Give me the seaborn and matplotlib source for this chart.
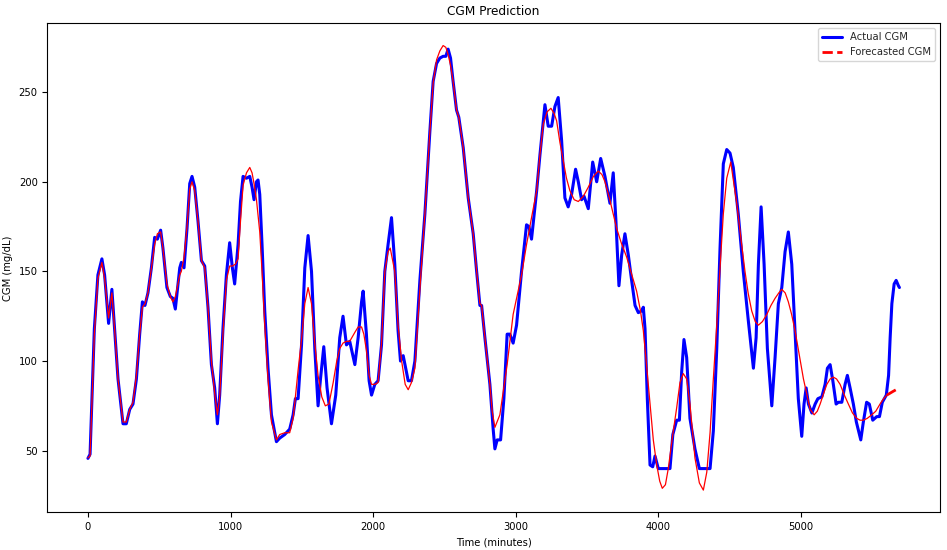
import numpy as np
import pandas as pd
import matplotlib
matplotlib.use("Agg")
import matplotlib.pyplot as plt
import seaborn as sns

# values (time in minutes, CGM in mg/dL)
actual_time = [0, 15, 45, 70, 98, 117, 145, 168, 187, 211, 246, 269, 293, 316, 340, 363, 382, 400, 421, 445,
               468, 487, 510, 526, 554, 578, 596, 613, 644, 655, 674, 695, 714, 730, 749, 772, 796, 819, 842, 866,
               889, 908, 924, 947, 971, 994, 1013, 1029, 1053, 1070, 1088, 1112, 1135, 1151, 1165, 1182, 1193, 1205,
               1221, 1240, 1263, 1287, 1322, 1345, 1380, 1415, 1439, 1455, 1474, 1498, 1521, 1544, 1568, 1591, 1614,
               1631, 1654, 1677, 1708, 1738, 1766, 1789, 1813, 1836, 1872, 1895, 1919, 1930, 1953, 1972, 1989, 2012,
               2035, 2059, 2082, 2105, 2129, 2152, 2175, 2192, 2211, 2246, 2269, 2293, 2328, 2363, 2398, 2421, 2445,
               2468, 2491, 2510, 2526, 2543, 2561, 2585, 2601, 2632, 2667, 2702, 2726, 2749, 2761, 2784, 2819, 2842,
               2854, 2870, 2894, 2917, 2940, 2959, 2982, 3006, 3041, 3076, 3093, 3111, 3147, 3170, 3205, 3228, 3252,
               3275, 3298, 3322, 3345, 3368, 3392, 3420, 3439, 3462, 3479, 3509, 3540, 3568, 3596, 3626, 3661, 3684,
               3703, 3724, 3743, 3766, 3790, 3813, 3837, 3860, 3884, 3895, 3907, 3923, 3942, 3961, 3977, 4000, 4082,
               4102, 4129, 4148, 4164, 4180, 4199, 4222, 4257, 4288, 4363, 4386, 4410, 4433, 4456, 4480, 4503, 4526,
               4561, 4596, 4632, 4667, 4686, 4702, 4721, 4742, 4765, 4796, 4819, 4842, 4866, 4889, 4912, 4936, 4959,
               4982, 5006, 5022, 5037, 5053, 5077, 5100, 5119, 5147, 5170, 5186, 5205, 5224, 5247, 5263, 5287, 5310,
               5326, 5345, 5368, 5389, 5420, 5438, 5461, 5480, 5504, 5532, 5551, 5571, 5599, 5615, 5626, 5638, 5654,
               5668, 5684, 5691]
actual_cgm = [45.7, 48, 118, 148, 157, 148, 121, 140, 118, 90, 65, 65, 73, 76, 90, 115, 133, 131, 138, 152,
              169, 168, 173, 163, 141, 136, 135, 129, 152, 155, 152, 174, 199, 203, 197, 178, 156, 153, 130, 98,
              85, 65, 81, 118, 148, 166, 152, 143, 165, 189, 203, 202, 203, 197, 190, 200, 201, 193,
              165, 128, 96, 70, 55, 57, 59, 62, 70, 79, 79, 109, 152, 170, 150, 107, 75,
              90, 108, 85, 65, 81, 113, 125, 109, 111, 98, 113, 133, 139, 115, 89, 81, 87,
              89, 109, 150, 165, 180, 154, 117, 100, 103, 89, 89, 100, 145, 182, 228, 256, 266,
              269, 270, 270, 274, 269, 256, 240, 236, 219, 191, 171, 150, 131, 131, 113, 87, 62,
              51, 56, 56, 79, 115, 115, 110, 120, 150, 176, 175, 168, 195, 215, 243, 231, 231,
              242, 247, 223, 191, 186, 193, 207, 200, 190, 192, 185, 211, 200, 213, 203, 188, 205,
              178, 142, 159, 171, 159, 145, 131, 127, 128, 130, 118, 79, 42, 41, 47, 40, 40,
              59, 67, 67, 94, 112, 102, 68, 51, 40, 40, 61, 107, 163, 210, 218, 216, 208,
              182, 150, 122, 96, 113, 154, 186, 154, 107, 75, 102, 132, 141, 161, 172, 154, 117,
              79, 58, 76, 85, 76, 71, 76, 79, 80, 87, 96, 98, 89, 76, 77, 77, 87,
              92, 85, 76, 66, 56, 66, 77, 76, 67, 69, 69, 77, 81, 92, 113, 132, 143,
              145, 142, 141]

fitted_time = [0, 15, 45, 70, 98, 117, 145, 168, 187, 211, 246, 269, 293, 316, 340, 363, 382, 400, 421, 445,
               468, 487, 510, 526, 554, 578, 596, 613, 644, 655, 674, 695, 714, 730, 749, 772, 796, 819, 842, 866,
               889, 908, 924, 947, 971, 994, 1013, 1034, 1053, 1070, 1088, 1112, 1135, 1151, 1165, 1182, 1205, 1221,
               1240, 1263, 1287, 1322, 1345, 1380, 1415, 1439, 1455, 1474, 1498, 1521, 1544, 1568, 1591, 1614, 1640,
               1665, 1690, 1720, 1745, 1766, 1789, 1813, 1836, 1872, 1895, 1919, 1935, 1953, 1972, 1989, 2012, 2035,
               2059, 2082, 2105, 2120, 2152, 2175, 2200, 2225, 2246, 2269, 2293, 2328, 2363, 2398, 2421, 2445, 2468,
               2491, 2510, 2526, 2543, 2561, 2585, 2601, 2632, 2667, 2702, 2726, 2749, 2761, 2784, 2819, 2835, 2854,
               2889, 2940, 2982, 3041, 3076, 3111, 3147, 3170, 3193, 3220, 3247, 3270, 3287, 3310, 3333, 3356, 3380,
               3410, 3439, 3475, 3509, 3545, 3579, 3605, 3626, 3660, 3708, 3740, 3778, 3815, 3848, 3875, 3895, 3915,
               3942, 3965, 3989, 4010, 4028, 4050, 4070, 4100, 4129, 4152, 4175, 4199, 4222, 4257, 4288, 4316, 4340,
               4363, 4386, 4410, 4433, 4456, 4480, 4508, 4530, 4550, 4580, 4608, 4630, 4655, 4680, 4702, 4730, 4761,
               4790, 4819, 4845, 4866, 4890, 4912, 4935, 4959, 4990, 5018, 5040, 5065, 5093, 5115, 5135, 5160, 5182,
               5205, 5228, 5250, 5275, 5305, 5333, 5362, 5392, 5415, 5438, 5465, 5497, 5525, 5555, 5580, 5603]
fitted_cgm = [46, 47, 115, 146, 155, 146, 124, 138, 118, 90, 66, 66, 73, 77, 92, 115, 130, 132, 138, 152,
              165, 171, 172, 163, 143, 136, 133, 136, 148, 150, 158, 175, 196, 200, 195, 178, 156, 152, 130, 100,
              82, 70, 80, 115, 145, 153, 153, 154, 157, 178, 198, 205, 208, 205, 199, 190, 172, 150,
              120, 90, 66, 56, 59, 60, 60, 68, 80, 95, 112, 132, 141, 132, 110, 92, 80,
              75, 76, 88, 100, 107, 110, 111, 111, 116, 119, 119, 115, 106, 92, 87, 87, 88,
              110, 150, 161, 163, 150, 120, 100, 87, 84, 88, 96, 140, 182, 228, 255, 268, 273,
              276, 275, 271, 265, 256, 240, 236, 219, 191, 171, 150, 132, 131, 113, 87, 72, 63,
              70, 98, 126, 148, 165, 180, 195, 215, 232, 239, 241, 238, 234, 222, 212, 202, 195,
              190, 189, 192, 197, 203, 206, 204, 200, 190, 174, 166, 158, 148, 139, 128, 117, 100,
              76, 56, 42, 33, 29, 31, 40, 58, 74, 88, 93, 90, 76, 46, 32, 28, 38,
              60, 90, 120, 152, 182, 202, 211, 199, 188, 168, 150, 138, 128, 122, 120, 122, 126,
              131, 135, 138, 140, 138, 133, 126, 117, 103, 90, 82, 73, 70, 72, 76, 82, 87,
              90, 91, 90, 87, 81, 76, 71, 68, 67, 67, 68, 70, 72, 76, 79, 81]

forecast_time = [5603, 5645, 5690]
forecast_cgm = [81, 83, 85]

actual = pd.DataFrame({"time": actual_time, "cgm": actual_cgm})
fitted = pd.DataFrame({"time": fitted_time, "cgm": fitted_cgm})
forecast = pd.DataFrame({"time": forecast_time, "cgm": forecast_cgm})

sns.set_style("ticks")
plt.rcParams['font.family'] = ['DejaVu Sans']

fig, ax = plt.subplots(figsize=(9.47, 5.5), dpi=100)
fig.subplots_adjust(left=0.05, right=0.9926, bottom=0.0685, top=0.9576)

sns.lineplot(data=actual, x="time", y="cgm", color="blue", linewidth=2.2,
             label="Actual CGM", ax=ax, estimator=None)
sns.lineplot(data=fitted, x="time", y="cgm", color="red", linewidth=0.9,
             label="_nolegend_", ax=ax, estimator=None)
sns.lineplot(data=forecast, x="time", y="cgm", color="red", linewidth=2,
             linestyle="--", label="Forecasted CGM", ax=ax, estimator=None)

ax.set_title("CGM Prediction", fontsize=8.7, color="black")
ax.set_xlabel("Time (minutes)", fontsize=7.2, color="black")
ax.set_ylabel("CGM (mg/dL)", fontsize=7.2, color="black")
ax.tick_params(labelsize=7.2, colors="black", length=3.5, width=0.8)
for s in ax.spines.values():
    s.set_color("black")
    s.set_linewidth(0.8)
ax.set_xticks([0, 1000, 2000, 3000, 4000, 5000])
ax.set_yticks([50, 100, 150, 200, 250])
ax.legend(loc="upper right", fontsize=7.2)

fig.savefig("out.png", dpi=100)
